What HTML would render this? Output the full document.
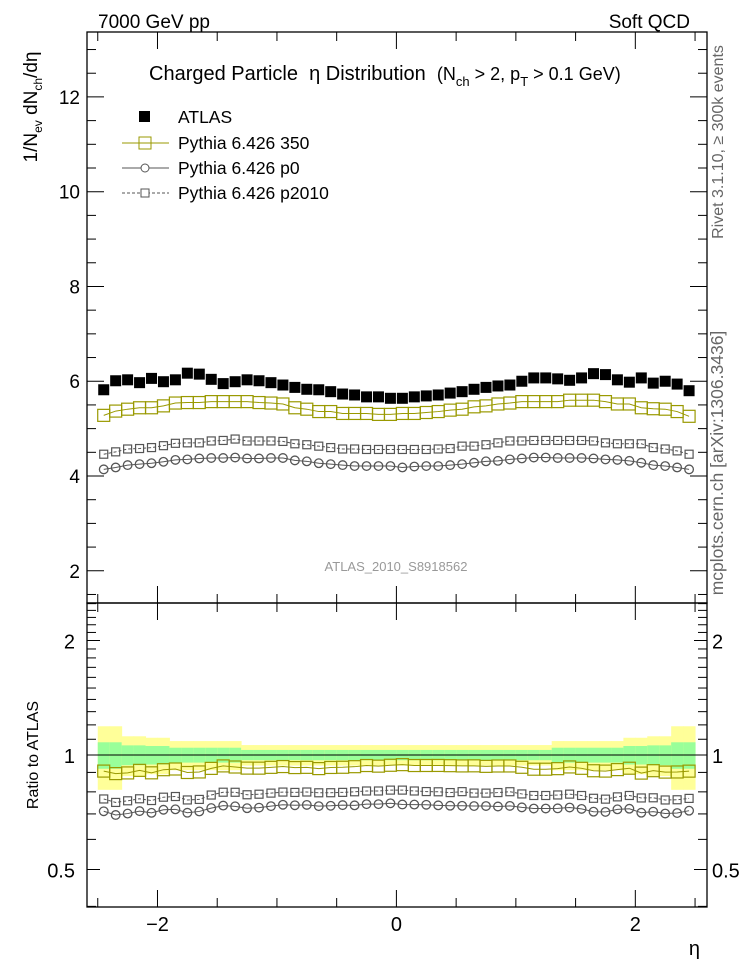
<!DOCTYPE html>
<html><head><meta charset="utf-8"><style>
html,body{margin:0;padding:0;background:#fff;}
svg{display:block;font-family:"Liberation Sans",sans-serif;}
</style></head><body>
<svg id="chart" width="746" height="972" viewBox="0 0 746 972" xmlns="http://www.w3.org/2000/svg">
<g id="bands"></g>
<g id="marks"></g>
<g id="axes"></g>
<text x="98" y="28" font-size="19">7000 GeV pp</text>
<text x="690" y="28" font-size="19" text-anchor="end">Soft QCD</text>
<text x="149" y="80" font-size="20" xml:space="preserve">Charged Particle  η Distribution  <tspan font-size="18">(N<tspan font-size="13" dy="6">ch</tspan><tspan dy="-6"> &gt; 2, p</tspan><tspan font-size="13" dy="6">T</tspan><tspan dy="-6"> &gt; 0.1 GeV)</tspan></tspan></text>
<g>
 <rect x="139" y="111" width="11" height="11" fill="#000"/>
 <text x="178" y="123" font-size="17.5">ATLAS</text>
 <line x1="122" y1="143" x2="169" y2="143" stroke="#999900"/>
 <rect x="139" y="137" width="12" height="12" fill="none" stroke="#999900"/>
 <text x="178" y="149" font-size="17.5">Pythia 6.426 350</text>
 <line x1="122" y1="168" x2="169" y2="168" stroke="#555"/>
 <circle cx="145" cy="168" r="4" fill="#fff" stroke="#555"/>
 <text x="178" y="174" font-size="17.5">Pythia 6.426 p0</text>
 <line x1="122" y1="193" x2="169" y2="193" stroke="#555" stroke-dasharray="3,2"/>
 <rect x="141" y="189" width="8" height="8" fill="#fff" stroke="#555"/>
 <text x="178" y="199" font-size="17.5">Pythia 6.426 p2010</text>
</g>
<text x="396" y="571" font-size="13" fill="#999" text-anchor="middle">ATLAS_2010_S8918562</text>
<text transform="translate(723,142) rotate(-90)" font-size="16" fill="#666" text-anchor="middle">Rivet 3.1.10, ≥ 300k events</text>
<text transform="translate(723,463) rotate(-90)" font-size="17.5" fill="#666" text-anchor="middle">mcplots.cern.ch [arXiv:1306.3436]</text>
<text transform="translate(37,107) rotate(-90)" font-size="19" text-anchor="middle">1/N<tspan font-size="12" dy="5">ev</tspan><tspan dy="-5"> dN</tspan><tspan font-size="12" dy="5">ch</tspan><tspan dy="-5">/dη</tspan></text>
<text transform="translate(38,755) rotate(-90)" font-size="16" text-anchor="middle">Ratio to ATLAS</text>
<text x="700" y="955" font-size="20" text-anchor="end">η</text>
</svg>
<script>
const NS="http://www.w3.org/2000/svg";
const binEdges0=-2.5, binWidth=0.1;
const atlas=[5.82,6.01,6.03,5.97,6.06,5.99,6.03,6.17,6.15,6.04,5.95,5.99,6.03,6.01,5.97,5.92,5.87,5.83,5.82,5.78,5.73,5.71,5.67,5.67,5.64,
 5.64,5.67,5.69,5.71,5.75,5.78,5.83,5.87,5.90,5.92,6.00,6.07,6.07,6.05,6.02,6.07,6.16,6.14,6.03,5.98,6.07,5.96,6.00,5.94,5.80];
const py350=[5.28,5.37,5.41,5.44,5.44,5.48,5.54,5.55,5.55,5.57,5.57,5.57,5.57,5.55,5.54,5.52,5.44,5.41,5.36,5.36,5.32,5.32,5.32,5.30,5.30,
 5.32,5.32,5.34,5.36,5.39,5.41,5.46,5.48,5.52,5.54,5.57,5.57,5.57,5.57,5.60,5.60,5.60,5.57,5.52,5.52,5.44,5.42,5.41,5.36,5.26];
const pyp0=[4.14,4.18,4.23,4.25,4.27,4.30,4.34,4.35,4.37,4.38,4.38,4.39,4.37,4.37,4.38,4.38,4.33,4.31,4.27,4.25,4.23,4.21,4.21,4.21,4.21,
 4.18,4.20,4.21,4.21,4.23,4.25,4.28,4.31,4.32,4.35,4.37,4.39,4.39,4.38,4.38,4.38,4.37,4.35,4.34,4.32,4.28,4.23,4.21,4.18,4.14];
const pyp2010=[4.46,4.51,4.57,4.58,4.60,4.64,4.69,4.70,4.70,4.74,4.75,4.78,4.74,4.74,4.74,4.73,4.68,4.66,4.63,4.60,4.57,4.57,4.56,4.56,4.56,
 4.56,4.56,4.56,4.57,4.58,4.63,4.63,4.66,4.70,4.74,4.74,4.75,4.75,4.75,4.75,4.75,4.74,4.70,4.68,4.68,4.68,4.60,4.57,4.53,4.46];
const totErr=[0.19,0.19,0.12,0.12,0.11,0.11,0.088,0.088,0.088,0.088,0.088,0.088,0.062,0.062,0.062,0.062,0.062,0.062,0.062,0.062,0.062,0.062,0.062,0.062,0.062,
 0.062,0.062,0.062,0.062,0.062,0.062,0.062,0.062,0.062,0.062,0.062,0.062,0.062,0.088,0.088,0.088,0.088,0.088,0.088,0.11,0.11,0.12,0.12,0.19,0.19];
const statErr=[0.08,0.08,0.06,0.06,0.056,0.056,0.045,0.045,0.045,0.045,0.045,0.045,0.031,0.031,0.031,0.031,0.031,0.031,0.031,0.031,0.031,0.031,0.031,0.031,0.031,
 0.031,0.031,0.031,0.031,0.031,0.031,0.031,0.031,0.031,0.031,0.031,0.031,0.031,0.045,0.045,0.045,0.045,0.045,0.045,0.056,0.056,0.06,0.06,0.08,0.08];
const mainTicks=[2,4,6,8,10,12];
const ratioTicks=[0.5,1,2];
const xTicks=[-2,0,2];

const FX0=87,FX1=707,XMIN=-2.59,XMAX=2.6;
const MT=32,MB=603,YMIN=1.32,YMAX=13.37;
const RT=603,RB=907,RY1=755,RPX=114.5;
const X=v=>FX0+(v-XMIN)/(XMAX-XMIN)*(FX1-FX0);
const Y=v=>MB-(v-YMIN)/(YMAX-YMIN)*(MB-MT);
const R=v=>RY1-Math.log2(v)*RPX;
function mk(tag,attrs,parent){const e=document.createElementNS(NS,tag);for(const k in attrs)e.setAttribute(k,attrs[k]);parent.appendChild(e);return e;}
const bands=document.getElementById('bands'),marks=document.getElementById('marks'),axes=document.getElementById('axes');
const centers=atlas.map((_,i)=>binEdges0+binWidth*(i+0.5));

for(let i=0;i<atlas.length;i++){
  const x0=X(binEdges0+binWidth*i),x1=X(binEdges0+binWidth*(i+1));
  const y=mk('rect',{x:x0,y:R(1+totErr[i]),width:x1-x0+0.5,height:R(1-totErr[i])-R(1+totErr[i]),fill:'#ffff99'},bands);
  
  
  const g=mk('rect',{x:x0,y:R(1+statErr[i]),width:x1-x0+0.5,height:R(1-statErr[i])-R(1+statErr[i]),fill:'#99ff99'},bands);
  
  
}
const one=mk('line',{x1:FX0,x2:FX1,y1:R(1),y2:R(1),stroke:'#000'},bands);



function series(vals,yf,style,name){
  const pts=vals.map((v,i)=>[X(centers[i]),yf(v,i)]);
  const pl=mk('polyline',{points:pts.map(p=>p.join(',')).join(' '),fill:'none',stroke:style.c,'stroke-width':1,'stroke-dasharray':style.dash||'none'},marks);
  
  
  pts.forEach(p=>{
    let e;
    if(style.m==='circ') e=mk('circle',{cx:p[0],cy:p[1],r:4.3,fill:'none',stroke:style.c,'stroke-width':1.3},marks);
    else e=mk('rect',{x:p[0]-style.s/2,y:p[1]-style.s/2,width:style.s,height:style.s,fill:'none',stroke:style.c,'stroke-width':1.2},marks);
    
    
  });
}
const sMain=v=>Y(v);
series(py350,sMain,{c:'#999900',m:'sq',s:12},'pythia-350');
series(pyp2010,sMain,{c:'#555',m:'sq',s:8,dash:'3,2'},'pythia-p2010');
series(pyp0,sMain,{c:'#555',m:'circ'},'pythia-p0');
series(py350,(v,i)=>R(v/atlas[i]),{c:'#999900',m:'sq',s:12},'ratio-350');
series(pyp2010,(v,i)=>R(v/atlas[i]),{c:'#555',m:'sq',s:8,dash:'3,2'},'ratio-p2010');
series(pyp0,(v,i)=>R(v/atlas[i]),{c:'#555',m:'circ'},'ratio-p0');
atlas.forEach((v,i)=>{
  const e=mk('rect',{x:X(centers[i])-5.5,y:Y(v)-5.5,width:11,height:11,fill:'#000'},marks);
  
  
});

[[MT,MB],[RT,RB]].forEach(([t,b],k)=>{
  const f=mk('rect',{x:FX0,y:t,width:FX1-FX0,height:b-t,fill:'none',stroke:'#000','stroke-width':1.3},axes);
  
  
});
function tick(x1,y1,x2,y2){const t=mk('line',{x1,y1,x2,y2,stroke:'#000'},axes);}
for(let v=1.5;v<=13.01;v+=0.5){
  const y=Y(v),maj=Math.abs(v/2-Math.round(v/2))<1e-6,L=maj?17:9;
  tick(FX0,y,FX0+L,y);tick(FX1,y,FX1-L,y);
}
mainTicks.forEach(v=>{
  const t=mk('text',{x:80,y:Y(v)+7,'font-size':19,'text-anchor':'end'},axes);t.textContent=v;
  
  
});
const rminor=[0.4,0.5,0.6,0.7,0.8,0.9,1,1.1,1.2,1.3,1.4,1.5,1.6,1.7,1.8,1.9,2,2.1,2.2,2.3,2.4,2.5];
rminor.forEach(v=>{const y=R(v);if(y<RT-0.5||y>RB+0.5)return;const L=ratioTicks.includes(v)?13:9;tick(FX0,y,FX0+L,y);tick(FX1,y,FX1-L,y);});
ratioTicks.forEach(v=>{
  const a=mk('text',{x:75,y:R(v)+8,'font-size':20,'text-anchor':'end'},axes);a.textContent=v;
  
  
  const b=mk('text',{x:712,y:R(v)+8,'font-size':20},axes);b.textContent=v;
  
  
});
for(let v=-2.5;v<=2.51;v+=0.5){
  const x=X(v),maj=Math.abs(v-Math.round(v))<1e-6&&Math.round(v)%2===0,L=maj?17:9;
  tick(x,MT,x,MT+L);tick(x,MB,x,MB-L);tick(x,RT,x,RT+L);tick(x,RB,x,RB-L);
}
xTicks.forEach(v=>{
  const t=mk('text',{x:X(v),y:931,'font-size':20,'text-anchor':'middle'},axes);t.textContent=v<0?'\u2212'+Math.abs(v):v;
  
  
});
</script>
</body></html>
